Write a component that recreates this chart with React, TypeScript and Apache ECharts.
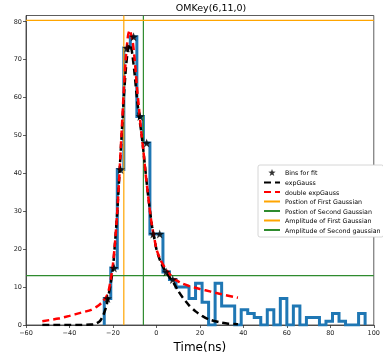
import React, { useEffect, useRef } from "react";
import * as echarts from "echarts";

const binEdges = [-24, -21, -18, -15, -12, -9, -6, -3, 0, 3, 6, 9, 12, 15, 18, 21, 24, 27, 30, 33, 36, 39, 42, 45, 48, 51, 54, 57, 60, 63, 66, 69, 72, 75, 78, 81, 84, 87, 90, 93, 96];
const counts = [7, 15, 41, 73, 76, 55, 48, 24, 24, 14, 12, 10, 10, 7, 11, 6, 0, 11, 5, 5, 0, 4, 3, 2, 0, 4, 0, 7, 0, 5, 0, 2, 2, 0, 1, 3, 1, 0, 0, 3];

const fitX = [-22.5, -19.5, -16.5, -13.5, -10.5, -7.5, -4.5, -1.5, 1.5, 4.5, 7.5];
const fitY = [7, 15, 41, 73, 76, 55, 48, 24, 24, 14, 12];

const expGaussX = [-52.5, -45, -40, -35, -30, -28, -26, -24.5, -23, -22, -21, -20, -19, -18, -17, -16, -15, -14, -13, -12, -11, -10, -9, -8, -7, -6, -4, -2, 0, 2, 4, 6, 8, 10, 12, 15, 18, 21, 24, 27, 30, 33, 37.5];
const expGaussY = [0, 0, 0, 0, 0.1, 0.3, 1, 2.5, 5, 8, 11, 15, 22, 30, 40, 50, 60, 68, 73, 74, 71, 66, 60, 55, 51, 46, 35, 26, 20, 16.5, 14.3, 12.6, 11, 9, 7.3, 5.2, 3.6, 2.4, 1.5, 1.0, 0.6, 0.35, 0.2];

const doubleX = [-52.5, -45, -40, -35, -30, -27, -25, -23, -22, -21, -20, -19, -18, -17, -16, -15, -14, -13, -12.3, -11, -10, -9, -8, -7, -6, -5, -4, -3, -2, -1, 0, 2, 4, 6, 8, 10, 12, 15, 20, 25, 30, 37.5];
const doubleY = [1.0, 1.7, 2.4, 3.2, 4.0, 5, 6, 7.5, 9, 12, 16, 22, 30, 40, 51, 62, 71, 76.5, 77.7, 75, 70, 63, 57, 51, 46, 40, 35, 30, 26, 23, 20, 17, 15, 13.5, 12.2, 11.5, 10.9, 10.3, 9.5, 8.8, 8.1, 7.2];

const firstPos = -15.0;
const secondPos = -6.0;
const firstAmp = 80.3;
const secondAmp = 13.0;

const xTicks = { min: -60, max: 100, interval: 20 };
const yTicks = { min: 0, max: 81.6, interval: 10 };

const STAR = "path://M0,-10 L2.35,-3.24 L9.51,-3.09 L3.8,1.24 L5.88,8.09 L0,4 L-5.88,8.09 L-3.8,1.24 L-9.51,-3.09 L-2.35,-3.24 Z";

export default function App() {
  const ref = useRef<HTMLDivElement>(null);
  useEffect(() => {
    if (!ref.current) return;
    const chart = echarts.init(ref.current, null, { renderer: "svg" });
    const stepPts: number[][] = [];
    stepPts.push([binEdges[0], 0]);
    for (let i = 0; i < counts.length; i++) {
      stepPts.push([binEdges[i], counts[i]]);
      stepPts.push([binEdges[i + 1], counts[i]]);
    }
    stepPts.push([binEdges[binEdges.length - 1], 0]);
    const font = "DejaVu Sans";
    const minus = (v: number) => String(v).replace("-", "\u2212");
    const lineItem = (name: string) => ({ name, itemStyle: { opacity: 0 } });
    chart.setOption({
      animation: false,
      title: {
        text: "OMKey(6,11,0)",
        left: 206,
        textAlign: "center",
        top: -2.5,
        textStyle: { fontFamily: font, fontSize: 9.5, fontWeight: "normal", color: "#000" },
      },
      grid: { left: 26, right: 2, top: 15.5, bottom: 25, show: true, borderColor: "#333", borderWidth: 0.8, backgroundColor: "transparent" },
      legend: {
        orient: "vertical",
        left: 258,
        top: 165,
        padding: [4, 3, 4, 5],
        itemWidth: 16,
        itemHeight: 7,
        itemGap: 3.5,
        backgroundColor: "#fff",
        borderColor: "#ccc",
        borderWidth: 0.8,
        borderRadius: 2,
        textStyle: { fontFamily: font, fontSize: 6.3, color: "#000" },
        data: [
          { name: "Bins for fit" },
          lineItem("expGauss"),
          lineItem("double expGauss"),
          lineItem("Postion of First Gaussian"),
          lineItem("Postion of Second Gaussian"),
          lineItem("Amplitude of First Gaussian"),
          lineItem("Amplitude of Second gaussian"),
        ],
      },
      xAxis: {
        type: "value",
        min: xTicks.min,
        max: xTicks.max,
        interval: xTicks.interval,
        name: "Time(ns)",
        nameLocation: "middle",
        nameGap: 16,
        nameTextStyle: { fontFamily: font, fontSize: 12, color: "#000", verticalAlign: "top" },
        axisLine: { show: true, onZero: false, lineStyle: { color: "#333", width: 0.8 } },
        axisTick: { show: true, inside: false, length: 3, lineStyle: { color: "#333", width: 0.8 } },
        axisLabel: { fontFamily: font, fontSize: 6.5, color: "#222", margin: 4, formatter: minus },
        splitLine: { show: false },
      },
      yAxis: {
        type: "value",
        min: yTicks.min,
        max: yTicks.max,
        interval: yTicks.interval,
        axisLine: { show: true, onZero: false, lineStyle: { color: "#333", width: 0.8 } },
        axisTick: { show: true, inside: false, length: 3, lineStyle: { color: "#333", width: 0.8 } },
        axisLabel: { fontFamily: font, fontSize: 6.5, color: "#222", margin: 4, showMaxLabel: false, formatter: minus },
        splitLine: { show: false },
      },
      series: [
        {
          name: "hist",
          type: "line",
          data: stepPts,
          symbol: "none",
          lineStyle: { color: "#1f77b4", width: 3, join: "miter" },
          itemStyle: { color: "#1f77b4" },
          z: 2,
        },
        {
          name: "Postion of First Gaussian",
          type: "line",
          data: [[firstPos, yTicks.min], [firstPos, yTicks.max]],
          symbol: "none",
          lineStyle: { color: "#ffa500", width: 1.2 },
          itemStyle: { color: "#ffa500" },
          z: 3,
        },
        {
          name: "Postion of Second Gaussian",
          type: "line",
          data: [[secondPos, yTicks.min], [secondPos, yTicks.max]],
          symbol: "none",
          lineStyle: { color: "#2e8b2e", width: 1.2 },
          itemStyle: { color: "#2e8b2e" },
          z: 3,
        },
        {
          name: "Amplitude of First Gaussian",
          type: "line",
          data: [[xTicks.min, firstAmp], [xTicks.max, firstAmp]],
          symbol: "none",
          lineStyle: { color: "#ffa500", width: 1.2 },
          itemStyle: { color: "#ffa500" },
          z: 3,
        },
        {
          name: "Amplitude of Second gaussian",
          type: "line",
          data: [[xTicks.min, secondAmp], [xTicks.max, secondAmp]],
          symbol: "none",
          lineStyle: { color: "#2e8b2e", width: 1.2 },
          itemStyle: { color: "#2e8b2e" },
          z: 3,
        },
        {
          name: "expGauss",
          type: "line",
          data: expGaussX.map((x, i) => [x, expGaussY[i]]),
          symbol: "none",
          smooth: 0.2,
          lineStyle: { color: "#000", width: 2.5, type: [7, 4] },
          itemStyle: { color: "#000" },
          z: 4,
        },
        {
          name: "double expGauss",
          type: "line",
          data: doubleX.map((x, i) => [x, doubleY[i]]),
          symbol: "none",
          smooth: 0.2,
          lineStyle: { color: "#ff0000", width: 2.5, type: [7, 4] },
          itemStyle: { color: "#ff0000" },
          z: 5,
        },
        {
          name: "Bins for fit",
          type: "scatter",
          data: fitX.map((x, i) => [x, fitY[i]]),
          symbol: STAR,
          symbolSize: 9,
          itemStyle: { color: "#000" },
          z: 6,
        },
      ],
    });
    return () => chart.dispose();
  }, []);
  return <div ref={ref} style={{ position: "fixed", left: 0, top: 0, width: 383, height: 358 }} />;
}
